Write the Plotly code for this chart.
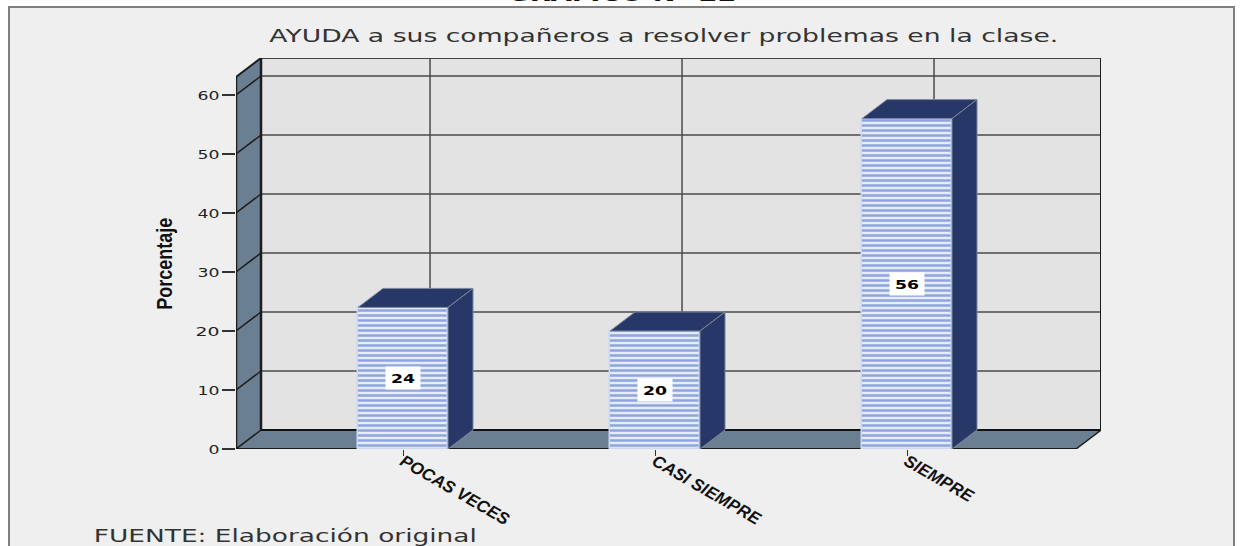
import json
import plotly.graph_objects as go

categories = ["POCAS VECES", "CASI SIEMPRE", "SIEMPRE"]
values = [24, 20, 56]
y_ticks = [0, 10, 20, 30, 40, 50, 60]

W, H = 1242, 546
L, R, T, B = 236, 1101, 58, 449
PX_X = 252.0
PX_Y = 5.9
DX = 25 / PX_X
DY = 19 / PX_Y
x_min = (L - 403) / PX_X
x_max = (R - 403) / PX_X
y_max = (B - T) / PX_Y
x_front = x_max - DX
y_top_front = y_max - DY
BW = 90 / PX_X

WALL = "#6b7f93"
BACK = "#e3e3e3"
NAVY = "#273768"
EDGE = "#7d879c"
DARK = "#1c1c1c"
GRID = "#4a4a4a"

TITLE = "GRAFICO N° 22"
SUBTITLE = "AYUDA a sus compañeros a resolver problemas en la clase."
SOURCE = "FUENTE: Elaboración original"
Y_TITLE = "Porcentaje"

# text widths of the reference, whose lettering is stretched or condensed
text_lengths = {TITLE: 229, SUBTITLE: 789, SOURCE: 383, Y_TITLE: 92,
                "24": 24, "20": 24, "56": 24, "60": 22, "50": 22, "40": 22,
                "30": 22, "10": 22, "0": 11}


def px(x):
    return (x - L) / (R - L)


def py(y):
    return (B - y) / (B - T)


shapes = []


def poly(pts, fill, line=None, width=0):
    path = "M " + " L ".join(f"{a},{b}" for a, b in pts) + " Z"
    shapes.append(dict(type="path", path=path, xref="x", yref="y", fillcolor=fill,
                       line=dict(color=line or fill, width=width), layer="below"))


def seg(x0, y0, x1, y1, color=GRID, width=1.5):
    shapes.append(dict(type="line", x0=x0, y0=y0, x1=x1, y1=y1, xref="x", yref="y",
                       line=dict(color=color, width=width), layer="below"))


# outer panel
shapes.append(dict(type="rect", xref="paper", yref="paper", x0=px(9), x1=px(1234),
                   y0=py(560), y1=py(7), fillcolor="#efefef",
                   line=dict(color="#7f7f7f", width=2), layer="below"))

# back wall, left wall, floor
poly([(x_min + DX, DY), (x_max, DY), (x_max, y_max), (x_min + DX, y_max)], BACK)
poly([(x_min, 0), (x_min + DX, DY), (x_min + DX, y_max), (x_min, y_top_front)], WALL)
poly([(x_min, 0), (x_front, 0), (x_max, DY), (x_min + DX, DY)], WALL)

for v in y_ticks[1:]:
    seg(x_min + DX, v + DY, x_max, v + DY)
    seg(x_min, v, x_min + DX, v + DY, DARK)
for i in range(len(categories)):
    seg(i + DX + 0.008, DY, i + DX + 0.008, y_max)

seg(x_min + DX, y_max, x_max, y_max, "#444444", 2)
seg(x_max, DY, x_max, y_max, DARK, 2)
seg(x_min + DX, DY, x_max, DY, "#111111", 2)
seg(x_min + DX, DY, x_min + DX, y_max, DARK, 2.5)
seg(x_min, 0, x_min, y_top_front, DARK, 2.5)
seg(x_min, y_top_front, x_min + DX, y_max, DARK, 2)
seg(x_min, 0, x_min + DX, DY, DARK, 1.5)
seg(x_front, 0, x_max, DY, DARK, 1.5)
seg(x_min, 0, x_front, 0, "#1a1a1a", 2)

fig = go.Figure()

fig.add_trace(go.Bar(
    x=list(range(len(categories))), y=values, width=BW,
    marker=dict(color="#dce6f8",
                line=dict(color="#cbd8f0", width=1.5),
                pattern=dict(shape="-", size=5, solidity=0.5, fgopacity=1,
                             fgcolor="#8fa5db", bgcolor="#e4ecfa")),
    hoverinfo="skip", showlegend=False))

for i, v in enumerate(values):
    x0, x1 = i - BW / 2, i + BW / 2
    fig.add_trace(go.Scatter(
        x=[x0, x0 + DX, x1 + DX, x1, x0], y=[v, v + DY, v + DY, v, v],
        mode="lines", fill="toself", fillcolor=NAVY,
        line=dict(color=EDGE, width=1), hoverinfo="skip", showlegend=False))
    fig.add_trace(go.Scatter(
        x=[x1, x1 + DX, x1 + DX, x1, x1], y=[0, DY, v + DY, v, 0],
        mode="lines", fill="toself", fillcolor=NAVY,
        line=dict(color=EDGE, width=1), hoverinfo="skip", showlegend=False))

annotations = [
    dict(x=i, y=v / 2, xref="x", yref="y", text=str(v), showarrow=False,
         bgcolor="white", width=34, height=22, borderpad=0,
         font=dict(family="DejaVu Sans", size=13, weight="bold", color="black"))
    for i, v in enumerate(values)
]
annotations += [
    dict(x=px(622), y=py(-7), xref="paper", yref="paper", text=TITLE,
         showarrow=False, xanchor="center", yanchor="middle",
         font=dict(family="DejaVu Sans", size=23, weight="bold", color="#111111")),
    dict(x=px(663.5), y=py(35), xref="paper", yref="paper", text=SUBTITLE,
         showarrow=False, xanchor="center", yanchor="middle",
         font=dict(family="DejaVu Sans", size=18, color="#333333")),
    dict(x=px(285), y=py(536), xref="paper", yref="paper", text=SOURCE,
         showarrow=False, xanchor="center", yanchor="middle",
         font=dict(family="DejaVu Sans", size=17, color="#333333")),
    dict(x=px(164), y=py(264), xref="paper", yref="paper", text=Y_TITLE,
         showarrow=False, textangle=-90, xanchor="center", yanchor="middle",
         font=dict(family="Liberation Sans", size=22, weight="bold", color="#111111")),
]

fig.update_layout(
    width=W, height=H, autosize=False,
    margin=dict(l=L, r=W - R, t=T, b=H - B, pad=0, autoexpand=False),
    paper_bgcolor="white", plot_bgcolor="rgba(0,0,0,0)",
    shapes=shapes, annotations=annotations, bargap=0, showlegend=False,
    xaxis=dict(range=[x_min, x_max], tickmode="array", automargin=False,
               tickvals=list(range(len(categories))), ticktext=categories,
               tickangle=30, ticks="outside", ticklen=6, tickcolor="#333333",
               ticklabelstandoff=-11,
               showgrid=False, zeroline=False, showline=False,
               tickfont=dict(family="Liberation Sans", size=17, weight="bold",
                             style="italic", color="#111111")),
    yaxis=dict(range=[0, y_max], tickmode="array", tickvals=y_ticks, automargin=False,
               ticks="outside", ticklen=13, tickwidth=1.5, tickcolor="#333333",
               showgrid=False, zeroline=False, showline=False,
               tickfont=dict(family="DejaVu Sans", size=13, color="#222222")),
)

post = (
    "document.body.style.margin='0';document.body.style.overflow='hidden';"
    "var m=" + json.dumps(text_lengths, ensure_ascii=False) + ";"
    "document.querySelectorAll('svg text').forEach(function(t){"
    "var k=t.textContent;if(m[k]){t.setAttribute('textLength',m[k]);"
    "t.setAttribute('lengthAdjust','spacingAndGlyphs');}});"
)
fig.write_html("out.html", config={"displayModeBar": False}, post_script=post)
